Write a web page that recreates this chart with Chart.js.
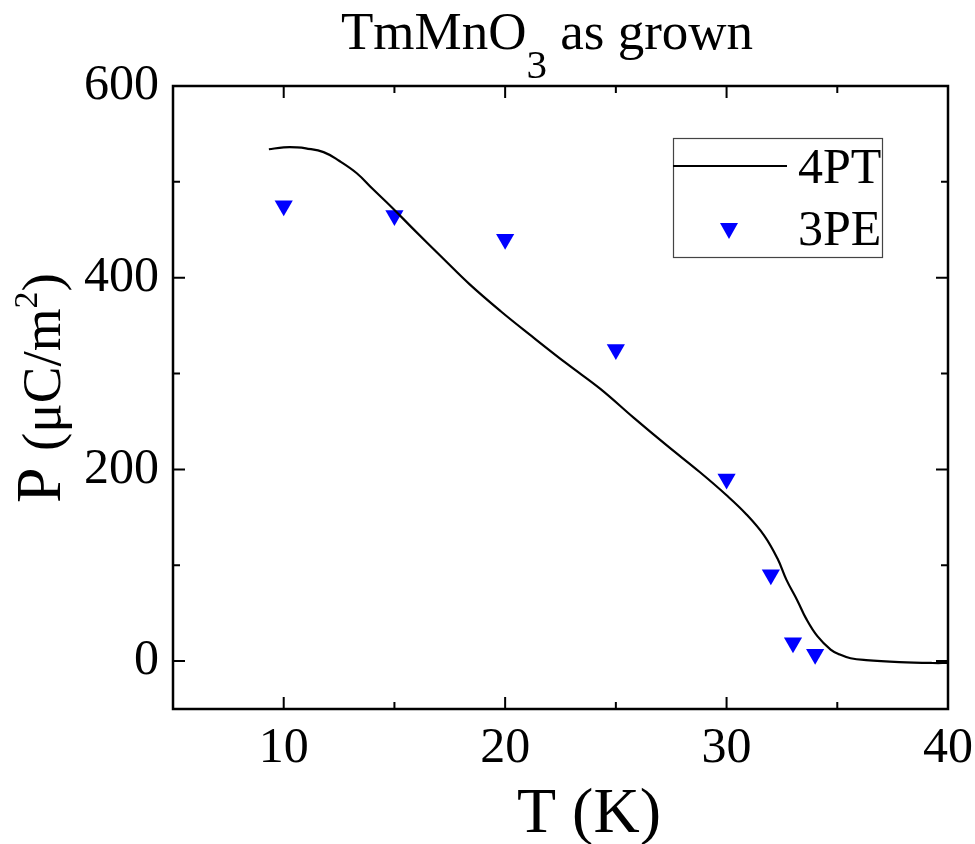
<!DOCTYPE html>
<html>
<head>
<meta charset="utf-8">
<script src="https://cdn.jsdelivr.net/npm/chart.js@4/dist/chart.umd.min.js"></script>
<style>
  html, body { margin: 0; padding: 0; background: #fff; }
  #wrap { width: 975px; height: 844px; }
</style>
</head>
<body>
<div id="wrap"><canvas id="chart" width="975" height="844"></canvas></div>
<script>
//data

//4PT curve (T in K, P in uC/m2)
const curveT = [9.33, 10.0, 10.6, 11.0, 11.8, 12.5, 13.3, 14.0, 14.9, 15.8, 17.2, 18.4, 19.8, 21.2, 22.8, 24.3, 25.8, 27.3, 28.8, 30.0, 30.9, 31.7, 32.3, 32.7, 33.2, 33.6, 34.1, 34.7, 35.1, 35.6, 36.3, 37.8, 39.3, 40.0];
const curveP = [534, 536, 536, 535, 531, 522, 509, 493, 473, 452, 420, 393, 365, 339, 310, 284, 254, 225, 197, 173, 153, 131, 107, 85, 63, 44, 26, 12, 7, 3, 1, -1, -2, -2];

//3PE points
const pointT = [10, 15, 20, 25, 30, 32, 33, 34];
const pointP = [475, 465, 440, 325, 190, 90, 19, 7];

//axes
const xMin = 5, xMax = 40;
const yMin = -50, yMax = 600;
const xMajor = [10, 20, 30, 40];
const xMinor = [15, 25, 35];
const yMajor = [0, 200, 400, 600];
const yMinor = [100, 300, 500];

const legendLabels = ['4PT', '3PE'];

const serif = '"Liberation Serif", "Times New Roman", serif';

/////////////////////////////////////////////////////////
//plugin for the frame, inward ticks, titles and the legend box

const decorPlugin = {
	id: 'decor',
	afterDraw(chart){
		const ctx = chart.ctx;
		const xs = chart.scales.x;
		const ys = chart.scales.y;
		const a = chart.chartArea;

		ctx.save();
		ctx.strokeStyle = '#000';
		ctx.lineWidth = 2.5;
		ctx.lineCap = 'square';
		ctx.strokeRect(a.left, a.top, a.right - a.left, a.bottom - a.top);

		//ticks on all four sides, pointing inside
		ctx.lineWidth = 2;
		ctx.lineCap = 'butt';
		ctx.beginPath();
		const drawX = (v, len) => {
			const px = xs.getPixelForValue(v);
			ctx.moveTo(px, a.bottom); ctx.lineTo(px, a.bottom - len);
			ctx.moveTo(px, a.top); ctx.lineTo(px, a.top + len);
		};
		const drawY = (v, len) => {
			const py = ys.getPixelForValue(v);
			ctx.moveTo(a.left, py); ctx.lineTo(a.left + len, py);
			ctx.moveTo(a.right, py); ctx.lineTo(a.right - len, py);
		};
		xMajor.forEach(v => drawX(v, 12));
		xMinor.forEach(v => drawX(v, 7));
		yMajor.forEach(v => drawY(v, 12));
		yMinor.forEach(v => drawY(v, 7));
		ctx.stroke();

		ctx.fillStyle = '#000';
		ctx.textBaseline = 'alphabetic';
		ctx.textAlign = 'left';

		//title with subscript
		let tx = 341;
		ctx.font = '53px ' + serif;
		ctx.fillText('TmMnO', tx, 49);
		tx += ctx.measureText('TmMnO').width;
		ctx.font = '41px ' + serif;
		ctx.fillText('3', tx, 78);
		tx += ctx.measureText('3').width;
		ctx.font = '53px ' + serif;
		ctx.fillText(' as grown', tx, 49);

		//x axis title
		ctx.font = '64px ' + serif;
		ctx.fillText('T (K)', 517, 832);

		//y axis title, rotated
		ctx.save();
		ctx.translate(60, 503);
		ctx.rotate(-Math.PI / 2);
		ctx.font = '64px ' + serif;
		ctx.fillText('P', 0, 0);
		let ty = 52;
		ctx.font = '55px ' + serif;
		ctx.fillText('(\u03bcC/m', ty, 0);
		ty += ctx.measureText('(\u03bcC/m').width;
		ctx.font = '34px ' + serif;
		ctx.fillText('2', ty, -23);
		ty += ctx.measureText('2').width;
		ctx.font = '55px ' + serif;
		ctx.fillText(')', ty, 0);
		ctx.restore();

		//legend box
		ctx.strokeStyle = '#444';
		ctx.lineWidth = 1.2;
		ctx.strokeRect(673.5, 138.5, 209, 119);
		ctx.strokeStyle = '#000';
		ctx.lineWidth = 2;
		ctx.beginPath();
		ctx.moveTo(673, 166); ctx.lineTo(787, 166);
		ctx.stroke();
		ctx.fillStyle = '#0000ff';
		ctx.beginPath();
		ctx.moveTo(720, 223); ctx.lineTo(738, 223); ctx.lineTo(729, 239);
		ctx.closePath();
		ctx.fill();
		ctx.fillStyle = '#000';
		ctx.font = '50px ' + serif;
		ctx.fillText(legendLabels[0], 798, 183);
		ctx.fillText(legendLabels[1], 798, 245);
		ctx.restore();
	}
};

/////////////////////////////////////////////////////////
//chart

const ctx1 = document.getElementById('chart');

const chart = new Chart(ctx1, {
	type: 'scatter',
	data: {
		datasets: [{
			label: legendLabels[0],
			data: curveT.map((t, i) => ({x: t, y: curveP[i]})),
			showLine: true,
			borderColor: '#000',
			borderWidth: 2.2,
			pointRadius: 0,
			tension: 0.4
		}, {
			label: legendLabels[1],
			data: pointT.map((t, i) => ({x: t, y: pointP[i]})),
			showLine: false,
			pointStyle: 'triangle',
			rotation: 180,
			pointRadius: 10.5,
			backgroundColor: '#0000ff',
			borderColor: '#0000ff',
			borderWidth: 0
		}]
	},
	options: {
		responsive: false,
		animation: false,
		layout: {
			padding: {left: 0, right: 27, top: 86, bottom: 0}
		},
		plugins: {
			legend: {display: false},
			tooltip: {enabled: false}
		},
		scales: {
			x: {
				type: 'linear',
				min: xMin,
				max: xMax,
				afterBuildTicks: s => { s.ticks = xMajor.map(v => ({value: v})); },
				afterFit: s => { s.height = 135; s.paddingLeft = 0; s.paddingRight = 0; },
				grid: {display: false, drawTicks: false},
				border: {display: false},
				ticks: {
					color: '#000',
					padding: 10,
					maxRotation: 0,
					font: {family: serif, size: 50}
				}
			},
			y: {
				type: 'linear',
				min: yMin,
				max: yMax,
				afterBuildTicks: s => { s.ticks = yMajor.map(v => ({value: v})); },
				afterFit: s => { s.width = 173; s.paddingTop = 0; s.paddingBottom = 0; },
				grid: {display: false, drawTicks: false},
				border: {display: false},
				ticks: {
					color: '#000',
					padding: 14,
					font: {family: serif, size: 50}
				}
			}
		}
	},
	plugins: [decorPlugin]
});
</script>
</body>
</html>
